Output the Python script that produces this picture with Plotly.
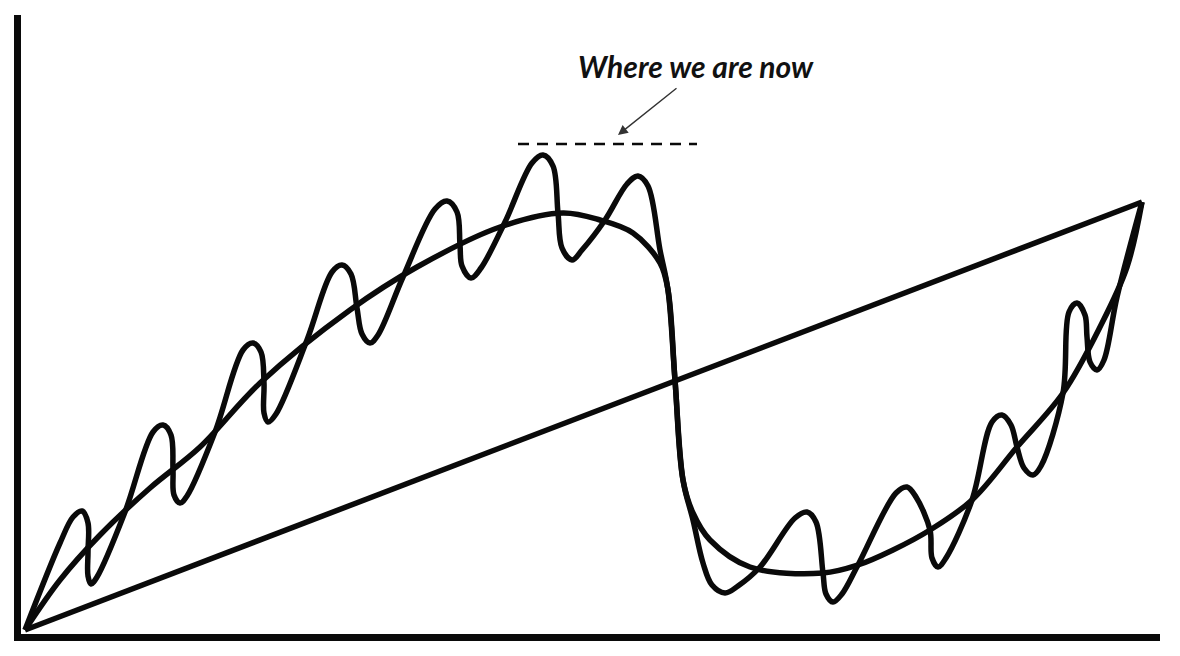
import plotly.graph_objects as go

# values (x = time, y = level, origin at the axes corner)
trend_x = [9, 1126]
trend_y = [8, 436]

smooth_x = [9, 44, 84, 134, 184, 244, 334, 401, 484, 547, 584, 617, 644, 652, 659,
            667, 677, 694, 734, 807, 842, 877, 914, 956, 1001, 1047, 1084, 1111, 1126]
smooth_y = [8, 58, 103, 150, 191, 255, 328, 371, 411, 425, 418, 405, 375, 348, 258,
            158, 125, 98, 71, 65, 73, 88, 108, 138, 191, 245, 311, 371, 436]

wave_x = [9, 44, 57, 66, 72, 72, 72, 75, 81, 109,
          137, 147, 155, 157, 158, 164, 171, 199,
          227, 237, 245, 248, 248, 252, 260, 291,
          316, 326, 335, 341, 346, 354, 362, 387,
          419, 431, 441, 444, 446, 455, 465, 489,
          516, 527, 537, 542, 546, 556, 566, 589,
          611, 622, 632, 644, 652, 659, 667, 677, 687,
          696, 709, 722, 744,
          779, 791, 800, 807, 810, 817, 826, 842,
          880, 891, 900, 914, 916, 922, 930, 956,
          976, 986, 995, 1001, 1008, 1017, 1025, 1047,
          1053, 1061, 1069, 1071, 1074, 1081, 1088, 1101, 1126]
wave_y = [8, 95, 121, 127, 115, 86, 62, 54, 61, 126,
          206, 213, 203, 168, 143, 135, 142, 206,
          288, 295, 286, 255, 225, 216, 224, 298,
          366, 373, 364, 330, 304, 295, 303, 361,
          429, 437, 426, 393, 372, 360, 370, 416,
          475, 483, 472, 425, 390, 378, 388, 418,
          454, 462, 452, 388, 348, 258, 158, 118, 75,
          53, 45, 52, 71,
          120, 126, 116, 65, 44, 36, 44, 73,
          145, 151, 141, 108, 80, 71, 80, 138,
          216, 223, 213, 191, 170, 163, 172, 245,
          326, 335, 323, 301, 276, 268, 278, 341, 436]

level_x = [502, 681]
level_y = [494, 494]

note_text = "Where we are now"

fig = go.Figure()
ink = "#0a0a0a"

fig.add_trace(go.Scatter(x=trend_x, y=trend_y, mode="lines",
                         line=dict(color=ink, width=5.5)))
fig.add_trace(go.Scatter(x=smooth_x, y=smooth_y, mode="lines",
                         line=dict(color=ink, width=5.5, shape="spline", smoothing=1.0)))
fig.add_trace(go.Scatter(x=wave_x, y=wave_y, mode="lines",
                         line=dict(color=ink, width=5.5, shape="spline", smoothing=1.0)))
fig.add_trace(go.Scatter(x=level_x, y=level_y, mode="lines",
                         line=dict(color=ink, width=2.5, dash="11px,8px")))

fig.add_annotation(x=602, y=503, ax=662, ay=551, xref="x", yref="y", axref="x", ayref="y",
                   text="", showarrow=True, arrowhead=2, arrowsize=1.4, arrowwidth=1.4,
                   arrowcolor="#333333")
fig.add_annotation(x=680, y=572, xref="x", yref="y", text=note_text, showarrow=False,
                   font=dict(family="Lato", size=30, color="#111111", weight="bold", style="italic"))

fig.update_layout(
    width=1180, height=656,
    margin=dict(l=13, r=28, t=7, b=30),
    plot_bgcolor="white", paper_bgcolor="white",
    showlegend=False,
)
fig.update_xaxes(range=[5, 1144], showline=True, linewidth=7, linecolor=ink,
                 showgrid=False, zeroline=False, showticklabels=False, ticks="")
fig.update_yaxes(range=[4, 623], showline=True, linewidth=7, linecolor=ink,
                 showgrid=False, zeroline=False, showticklabels=False, ticks="")

fig.write_html("out.html")
